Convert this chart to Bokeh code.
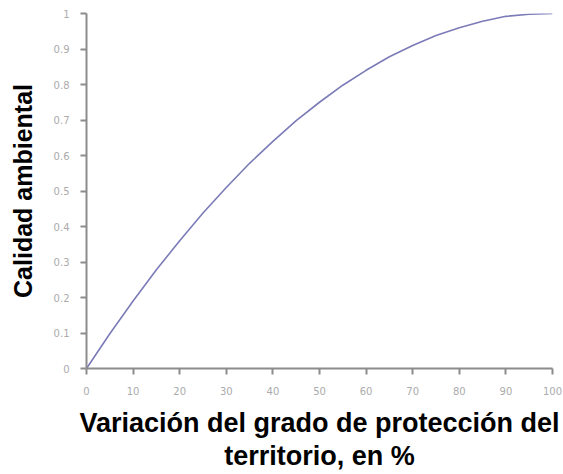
from bokeh.plotting import figure
from bokeh.models import Range1d, FixedTicker
from bokeh.embed import file_html
from bokeh.resources import INLINE

# Data
x_vals = [0, 5, 10, 15, 20, 25, 30, 35, 40, 45, 50, 55, 60, 65, 70, 75, 80, 85, 90, 95, 100]
y_vals = [0.0, 0.098, 0.19, 0.278, 0.36, 0.438, 0.51, 0.578, 0.64, 0.698, 0.75,
          0.798, 0.84, 0.878, 0.91, 0.938, 0.96, 0.978, 0.992, 0.998, 1.0]
x_ticks = [0, 10, 20, 30, 40, 50, 60, 70, 80, 90, 100]
y_ticks = [0, 0.1, 0.2, 0.3, 0.4, 0.5, 0.6, 0.7, 0.8, 0.9, 1]
x_label = "Variación del grado de protección del\nterritorio, en %"
y_label = "Calidad ambiental"

p = figure(width=563, height=474, output_backend="svg", toolbar_location=None,
           x_range=Range1d(0, 100), y_range=Range1d(0, 1),
           min_border_left=86, min_border_right=11, min_border_top=13, min_border_bottom=106)
p.outline_line_color = None
p.grid.visible = False
p.background_fill_color = "white"
p.border_fill_color = "white"

p.line(x_vals, y_vals, line_color="#7b7bb8", line_width=1.6)

for ax in (p.xaxis[0], p.yaxis[0]):
    ax.axis_line_color = "#8c8c8c"
    ax.axis_line_width = 2
    ax.major_tick_line_color = "#8c8c8c"
    ax.major_tick_line_width = 2
    ax.major_tick_out = 6
    ax.major_tick_in = 0
    ax.minor_tick_line_color = None
    ax.major_label_text_color = "#ababab"
    ax.major_label_text_font = "DejaVu Sans"
    ax.major_label_text_font_size = "10px"
    ax.axis_label_text_font = "Liberation Sans"
    ax.axis_label_text_font_style = "bold"
    ax.axis_label_text_color = "black"

p.xaxis[0].axis_label_text_font_size = "27px"
p.xaxis[0].axis_label_text_line_height = 1.1
p.yaxis[0].axis_label_text_font_size = "25px"
p.xaxis[0].ticker = FixedTicker(ticks=x_ticks)
p.yaxis[0].ticker = FixedTicker(ticks=y_ticks)
p.xaxis[0].major_label_overrides = {t: str(t) for t in x_ticks}
p.yaxis[0].major_label_overrides = {t: ("0" if t == 0 else ("1" if t == 1 else str(t))) for t in y_ticks}
p.xaxis[0].major_label_standoff = 12
p.yaxis[0].major_label_standoff = 11
p.xaxis[0].axis_label = x_label
p.yaxis[0].axis_label = y_label
p.xaxis[0].axis_label_standoff = 10
p.yaxis[0].axis_label_standoff = 14

open("out.html", "w").write(file_html(p, INLINE))
